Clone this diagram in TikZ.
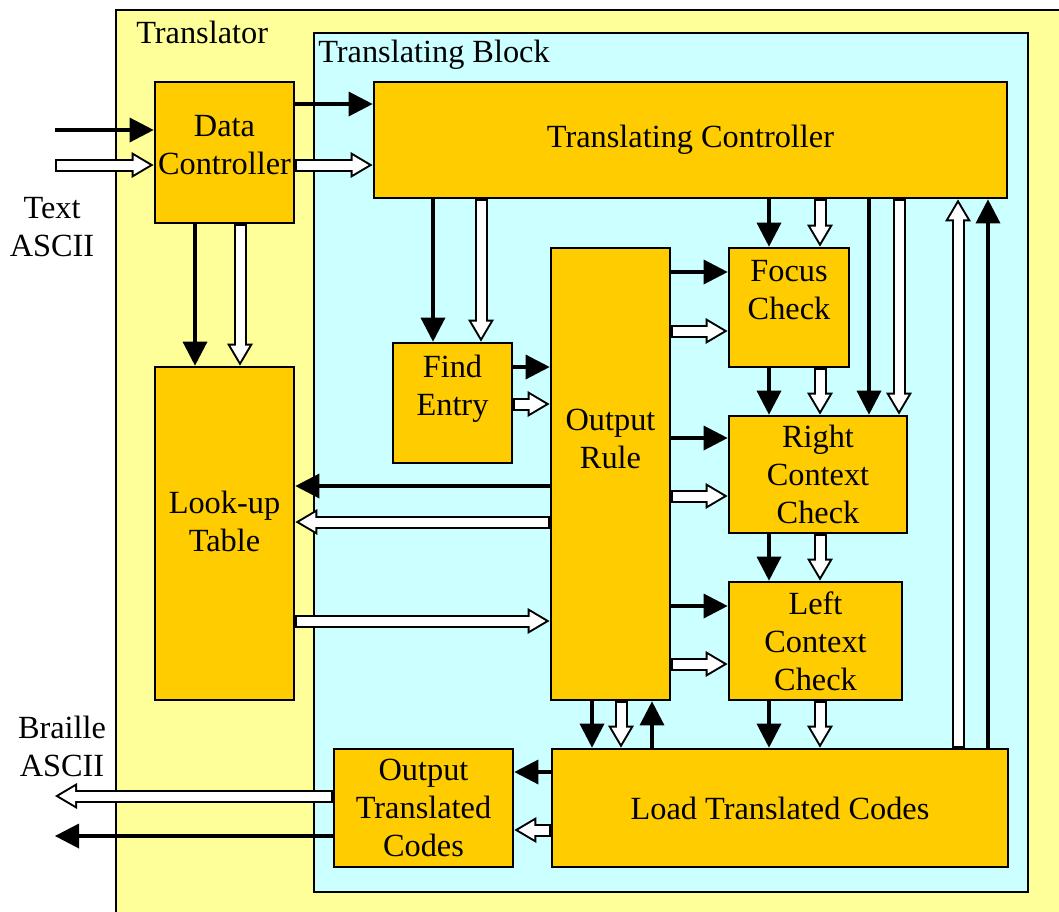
\documentclass[tikz,border=0pt]{standalone}
\usepackage{fontspec}
\setmainfont{Liberation Serif}
\usetikzlibrary{arrows.meta,calc}
\definecolor{blockOrange}{HTML}{FFCC00}
\definecolor{outerYellow}{HTML}{FFFF99}
\definecolor{innerCyan}{HTML}{CCFFFF}

\begin{document}
\begin{tikzpicture}[
  x=0.25mm, y=-0.25mm,
  font=\fontsize{23}{27}\selectfont,
  frame/.style={draw=black, line width=0.7mm},
  block/.style={draw=black, fill=blockOrange, line width=0.7mm, align=center, inner sep=0pt},
  lbl/.style={align=center, inner sep=0pt},
  fullarrow/.style={draw=black, line width=1mm, -{Triangle[length=6mm, width=6.25mm, line width=0pt]}},
  hollowarrow/.style={draw=black, line width=3.25mm, -{Triangle[length=5.5mm, width=6.5mm, line width=0pt]},
    postaction={draw=white, line width=2.25mm, -{Triangle[length=4mm, width=4.75mm, line width=0pt]}, shorten >=1mm, shorten <=0.5mm}}
]
\useasboundingbox (0,0) rectangle (1059,911);
\draw[frame, fill=outerYellow] (116,10) rectangle (1080,930);
\draw[frame, fill=innerCyan] (314,33) rectangle (1028,892);
\node[lbl, anchor=west] (translator) at (136,32) {Translator};
\node[lbl, anchor=west] (tblock) at (318,55) {Translating Block};

% blocks
\node[block, minimum width=34.75mm, minimum height=35.25mm] (dc) at (224.5,152.5) {Data\\Controller\\[-5.75mm]};
\node[block, minimum width=34.75mm, minimum height=83.25mm] (lut) at (224.5,533.5) {Look-up\\Table\\[-3.25mm]};
\node[block, minimum width=158.25mm, minimum height=29mm] (tc) at (690.5,140) {Translating Controller};
\node[block, minimum width=29.75mm, minimum height=30mm] (fe) at (452.5,403) {Find\\Entry\\[-0.5mm]};
\node[block, minimum width=29.75mm, minimum height=113mm] (orule) at (610.5,474) {Output\\Rule\\[8mm]};
\node[block, minimum width=30mm, minimum height=29.75mm] (fc) at (789,307.5) {Focus\\Check\\[-0.5mm]};
\node[block, minimum width=44.5mm, minimum height=29.25mm] (rc) at (818,474.5) {Right\\Context\\Check};
\node[block, minimum width=43.25mm, minimum height=29.5mm] (lc) at (815.5,641) {Left\\Context\\Check};
\node[block, minimum width=114mm, minimum height=29.5mm] (ltc) at (780,808) {Load Translated Codes};
\node[block, minimum width=44.75mm, minimum height=29.5mm] (otc) at (423.5,808) {Output\\Translated\\Codes};

\node[lbl] (textascii) at (52,227) {Text\\ASCII};
\node[lbl] (brailleascii) at (62,746) {Braille\\ASCII};

\coordinate (textin) at (55,130);
\coordinate (textinw) at (55,165);
\coordinate (brout) at (55,796);
\coordinate (broutb) at (55,836);

% input side
\draw[fullarrow] (textin) -- (dc.west |- textin);
\draw[hollowarrow] (textinw) -- (dc.west |- textinw);
\draw[fullarrow] (dc.east |- 0,104) -- (tc.west |- 0,104);
\draw[hollowarrow] (dc.east |- 0,165) -- (tc.west |- 0,165);
\draw[fullarrow] (dc.south -| 195,0) -- (lut.north -| 195,0);
\draw[hollowarrow] (dc.south -| 240,0) -- (lut.north -| 240,0);

% controller to find entry
\draw[fullarrow] (tc.south -| 433,0) -- (fe.north -| 433,0);
\draw[hollowarrow] (tc.south -| 481,0) -- (fe.north -| 481,0);
\draw[fullarrow] (fe.east |- 0,367) -- (orule.west |- 0,367);
\draw[hollowarrow] (fe.east |- 0,404) -- (orule.west |- 0,404);

% check column
\foreach \src/\dst in {tc/fc, fc/rc, rc/lc, lc/ltc} {
  \draw[fullarrow] (\src.south -| 769,0) -- (\dst.north -| 769,0);
  \draw[hollowarrow] (\src.south -| 820,0) -- (\dst.north -| 820,0);
}
\foreach \dst/\yb/\yw in {fc/272/331, rc/438/496, lc/606/664} {
  \draw[fullarrow] (orule.east |- 0,\yb) -- (\dst.west |- 0,\yb);
  \draw[hollowarrow] (orule.east |- 0,\yw) -- (\dst.west |- 0,\yw);
}
\draw[fullarrow] (tc.south -| 869,0) -- (rc.north -| 869,0);
\draw[hollowarrow] (tc.south -| 899,0) -- (rc.north -| 899,0);

% look-up table
\draw[fullarrow] (orule.west |- 0,486) -- (lut.east |- 0,486);
\draw[hollowarrow] (orule.west |- 0,522) -- (lut.east |- 0,522);
\draw[hollowarrow] (lut.east |- 0,621) -- (orule.west |- 0,621);

% load and output
\draw[fullarrow] (orule.south -| 592,0) -- (ltc.north -| 592,0);
\draw[hollowarrow] (orule.south -| 621,0) -- (ltc.north -| 621,0);
\draw[fullarrow] (ltc.north -| 652,0) -- (orule.south -| 652,0);
\draw[hollowarrow] (ltc.north -| 958,0) -- (tc.south -| 958,0);
\draw[fullarrow] (ltc.north -| 988,0) -- (tc.south -| 988,0);
\draw[fullarrow] (ltc.west |- 0,772) -- (otc.east |- 0,772);
\draw[hollowarrow] (ltc.west |- 0,830) -- (otc.east |- 0,830);
\draw[hollowarrow] (otc.west |- brout) -- (brout);
\draw[fullarrow] (otc.west |- broutb) -- (broutb);
\end{tikzpicture}
\end{document}
